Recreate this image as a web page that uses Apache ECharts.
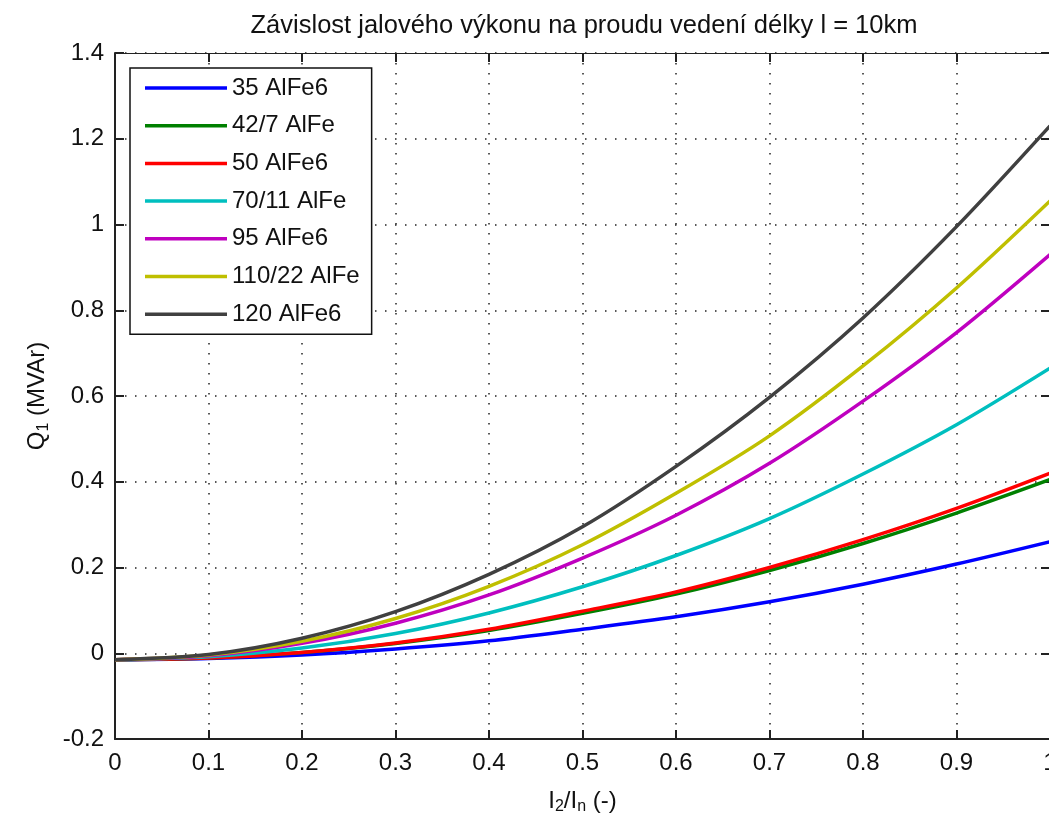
<!DOCTYPE html>
<html>
<head>
<meta charset="utf-8">
<script src="https://cdn.jsdelivr.net/npm/echarts@6/dist/echarts.min.js"></script>
<style>
html,body{margin:0;padding:0;background:#fff;}
#c{width:1049px;height:817px;}
</style>
</head>
<body>
<div id="c"></div>
<script>
const xs = [0, 0.1, 0.2, 0.3, 0.4, 0.5, 0.6, 0.7, 0.8, 0.9, 1.0];
const names = ['35 AlFe6', '42/7 AlFe', '50 AlFe6', '70/11 AlFe', '95 AlFe6', '110/22 AlFe', '120 AlFe6'];
const q35   = [-0.015, -0.012, -0.004, 0.010, 0.029, 0.056, 0.085, 0.120, 0.161, 0.208, 0.260];
const q42   = [-0.015, -0.011, 0.002, 0.023, 0.053, 0.093, 0.138, 0.193, 0.256, 0.327, 0.405];
const q50   = [-0.015, -0.011, 0.002, 0.024, 0.056, 0.098, 0.143, 0.200, 0.265, 0.338, 0.420];
const q70   = [-0.015, -0.008, 0.012, 0.046, 0.094, 0.155, 0.228, 0.314, 0.418, 0.533, 0.665];
const q95   = [-0.015, -0.006, 0.023, 0.070, 0.136, 0.222, 0.322, 0.443, 0.588, 0.748, 0.930];
const q110  = [-0.015, -0.004, 0.028, 0.081, 0.156, 0.253, 0.373, 0.507, 0.670, 0.852, 1.055];
const q120  = [-0.015, -0.003, 0.035, 0.097, 0.184, 0.295, 0.436, 0.597, 0.782, 0.995, 1.230];
const values = [q35, q42, q50, q70, q95, q110, q120];
const colors = ['#0000ff', '#008000', '#ff0000', '#00bfbf', '#bf00bf', '#bfbf00', '#404040'];
const xTicks = [0, 0.1, 0.2, 0.3, 0.4, 0.5, 0.6, 0.7, 0.8, 0.9, 1];
const yTicks = [-0.2, 0, 0.2, 0.4, 0.6, 0.8, 1, 1.2, 1.4];

const FONT = "'Liberation Sans', Arial, sans-serif";
const chart = echarts.init(document.getElementById('c'), null, {renderer: 'canvas'});

const series = names.map((n, i) => ({
  name: n,
  type: 'line',
  data: xs.map((x, j) => [x, values[i][j]]),
  showSymbol: false,
  symbol: 'none',
  smooth: 0.3,
  lineStyle: {color: colors[i], width: 3.5},
  itemStyle: {color: colors[i]},
  z: 2 + i,
  animation: false
}));

const gridLine = {show: true, lineStyle: {color: '#222', type: [1.5, 8.5], width: 1.5}};
const fmt = v => String(Math.round(v * 10) / 10);

chart.setOption({
  animation: false,
  backgroundColor: '#fff',
  title: {
    text: 'Závislost jalového výkonu na proudu vedení délky l = 10km',
    left: 579, top: 8, textAlign: 'center',
    textStyle: {fontFamily: FONT, fontSize: 25.5, fontWeight: 'normal', color: '#111'}
  },
  grid: {left: 115, width: 935, top: 53, bottom: 78, containLabel: false, outerBoundsMode: 'none'},
  legend: {
    orient: 'vertical',
    left: 130, top: 68,
    backgroundColor: '#fff',
    borderColor: '#111', borderWidth: 1.5,
    padding: [8, 12, 8, 15],
    itemGap: 13.7,
    itemWidth: 82, itemHeight: 3.5,
    icon: 'rect',
    textStyle: {fontFamily: FONT, fontSize: 24, color: '#111'},
    data: names
  },
  xAxis: [{
    type: 'value', min: 0, max: 1, interval: 0.1,
    name: '{b|I}{s|2}{b|/I}{s|n}{b| (-)}',
    nameLocation: 'middle', nameGap: 48,
    nameTextStyle: {
      rich: {
        b: {fontFamily: FONT, fontSize: 24, color: '#111'},
        s: {fontFamily: FONT, fontSize: 16, color: '#111', padding: [12, 0, 0, 0]}
      }
    },
    axisLine: {show: true, onZero: false, lineStyle: {color: '#222', width: 2}},
    axisTick: {show: true, inside: true, length: 9, lineStyle: {color: '#222', width: 2}},
    axisLabel: {fontFamily: FONT, fontSize: 24, color: '#111', margin: 12, formatter: fmt, showMaxLabel: true},
    splitLine: gridLine
  }, {
    type: 'value', min: 0, max: 1, interval: 0.1, position: 'top',
    axisLine: {show: true, onZero: false, lineStyle: {color: '#222', width: 1}},
    axisTick: {show: true, inside: true, length: 9, lineStyle: {color: '#222', width: 2}},
    axisLabel: {show: false},
    splitLine: {show: false}
  }],
  yAxis: [{
    type: 'value', min: -0.2, max: 1.4, interval: 0.2,
    name: '{b|Q}{s|1}{b| (MVAr)}',
    nameLocation: 'middle', nameGap: 56, nameRotate: 90,
    nameTextStyle: {
      rich: {
        b: {fontFamily: FONT, fontSize: 24, color: '#111'},
        s: {fontFamily: FONT, fontSize: 16, color: '#111', padding: [12, 0, 0, 0]}
      }
    },
    axisLine: {show: true, onZero: false, lineStyle: {color: '#222', width: 2}},
    axisTick: {show: true, inside: true, length: 9, lineStyle: {color: '#222', width: 2}},
    axisLabel: {fontFamily: FONT, fontSize: 24, color: '#111', margin: 11, formatter: fmt},
    splitLine: gridLine
  }, {
    type: 'value', min: -0.2, max: 1.4, interval: 0.2, position: 'right',
    axisLine: {show: true, onZero: false, lineStyle: {color: '#222', width: 1}},
    axisTick: {show: true, inside: true, length: 9, lineStyle: {color: '#222', width: 2}},
    axisLabel: {show: false},
    splitLine: {show: false}
  }],
  series: series
});
</script>
</body>
</html>
